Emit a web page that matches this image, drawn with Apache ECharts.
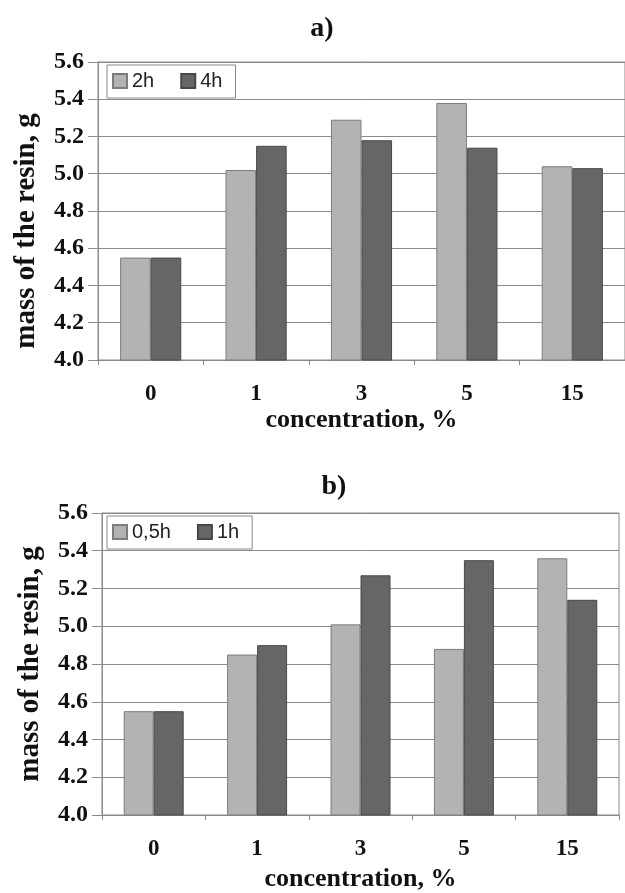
<!DOCTYPE html>
<html>
<head>
<meta charset="utf-8">
<script src="https://cdn.jsdelivr.net/npm/echarts@6/dist/echarts.min.js"></script>
<style>
html,body{margin:0;padding:0;background:#fff;}
#chart{width:625px;height:893px;}
</style>
</head>
<body>
<div id="chart"></div>
<script>
const categories = ['0', '1', '3', '5', '15'];
const seriesA2h = [4.55, 5.02, 5.29, 5.38, 5.04];
const seriesA4h = [4.55, 5.15, 5.18, 5.14, 5.03];
const seriesB05h = [4.55, 4.85, 5.01, 4.88, 5.36];
const seriesB1h = [4.55, 4.90, 5.27, 5.35, 5.14];
const legendA = ['2h', '4h'];
const legendB = ['0,5h', '1h'];
const panelTitles = ['a)', 'b)'];
const xAxisTitle = 'concentration, %';
const yAxisTitle = 'mass of the resin, g';
const yMin = 4.0, yMax = 5.6, yStep = 0.2;

const serif = '"Liberation Serif", "Times New Roman", serif';
const sans = '"Liberation Sans", Arial, sans-serif';
const lightStyle = {color: '#b3b3b3', borderColor: '#7c7c7c', borderWidth: 1};
const darkStyle = {color: '#666666', borderColor: '#484848', borderWidth: 1};

function xAxisCfg(idx, gap) {
  return {
    type: 'category', gridIndex: idx, data: categories,
    name: xAxisTitle, nameLocation: 'middle', nameGap: gap,
    nameTextStyle: {fontFamily: serif, fontWeight: 'bold', fontSize: 26, color: '#111'},
    axisLine: {lineStyle: {color: '#8a8a8a', width: 1}},
    axisTick: {show: true, length: 5, alignWithLabel: false, lineStyle: {color: '#8a8a8a'}},
    axisLabel: {fontFamily: serif, fontWeight: 'bold', fontSize: 23, color: '#111', margin: 23}
  };
}
function yAxisCfg(idx, pad) {
  return {
    type: 'value', gridIndex: idx, min: yMin, max: yMax, interval: yStep,
    name: yAxisTitle, nameLocation: 'middle', nameGap: 57,
    nameTextStyle: {fontFamily: serif, fontWeight: 'bold', fontSize: 29, color: '#111', padding: pad},
    axisLine: {show: true, lineStyle: {color: '#8a8a8a', width: 1}},
    axisTick: {show: true, length: 10, lineStyle: {color: '#8a8a8a'}},
    splitLine: {show: true, lineStyle: {color: '#8a8a8a', width: 1}},
    axisLabel: {fontFamily: serif, fontWeight: 'bold', fontSize: 24, color: '#111', margin: 14,
      formatter: v => v.toFixed(1)}
  };
}
function legendCfg(names, top) {
  return {
    data: names, left: 107, top: top, orient: 'horizontal', icon: 'rect',
    itemWidth: 14, itemHeight: 14, itemGap: 26,
    padding: [6, 13, 7, 5], borderColor: '#888', borderWidth: 1, backgroundColor: '#fff',
    textStyle: {fontFamily: sans, fontSize: 20, color: '#222'}
  };
}
function bar(name, data, idx, style) {
  return {
    name: name, type: 'bar', xAxisIndex: idx, yAxisIndex: idx, data: data,
    barGap: '0%', barCategoryGap: '42%', itemStyle: style, silent: true
  };
}

const chart = echarts.init(document.getElementById('chart'), null, {renderer: 'canvas'});
chart.setOption({
  animation: false,
  backgroundColor: '#fff',
  title: [
    {text: panelTitles[0], left: 317, top: 10, textAlign: 'center',
      textStyle: {fontFamily: serif, fontWeight: 'bold', fontSize: 28, color: '#111'}},
    {text: panelTitles[1], left: 329, top: 468, textAlign: 'center',
      textStyle: {fontFamily: serif, fontWeight: 'bold', fontSize: 28, color: '#111'}}
  ],
  legend: [legendCfg(legendA, 65), legendCfg(legendB, 516)],
  grid: [
    {left: 98, right: -7, top: 62, height: 298, show: true, borderColor: '#8a8a8a', borderWidth: 1},
    {left: 102, right: 6, top: 513, height: 308, show: true, borderColor: '#8a8a8a', borderWidth: 1}
  ],
  xAxis: [xAxisCfg(0, 46), xAxisCfg(1, 51)],
  yAxis: [yAxisCfg(0, [0, 40, 0, 0]), yAxisCfg(1, [0, 0, 0, 0])],
  series: [
    bar(legendA[0], seriesA2h, 0, lightStyle),
    bar(legendA[1], seriesA4h, 0, darkStyle),
    bar(legendB[0], seriesB05h, 1, lightStyle),
    bar(legendB[1], seriesB1h, 1, darkStyle)
  ]
});
</script>
</body>
</html>
